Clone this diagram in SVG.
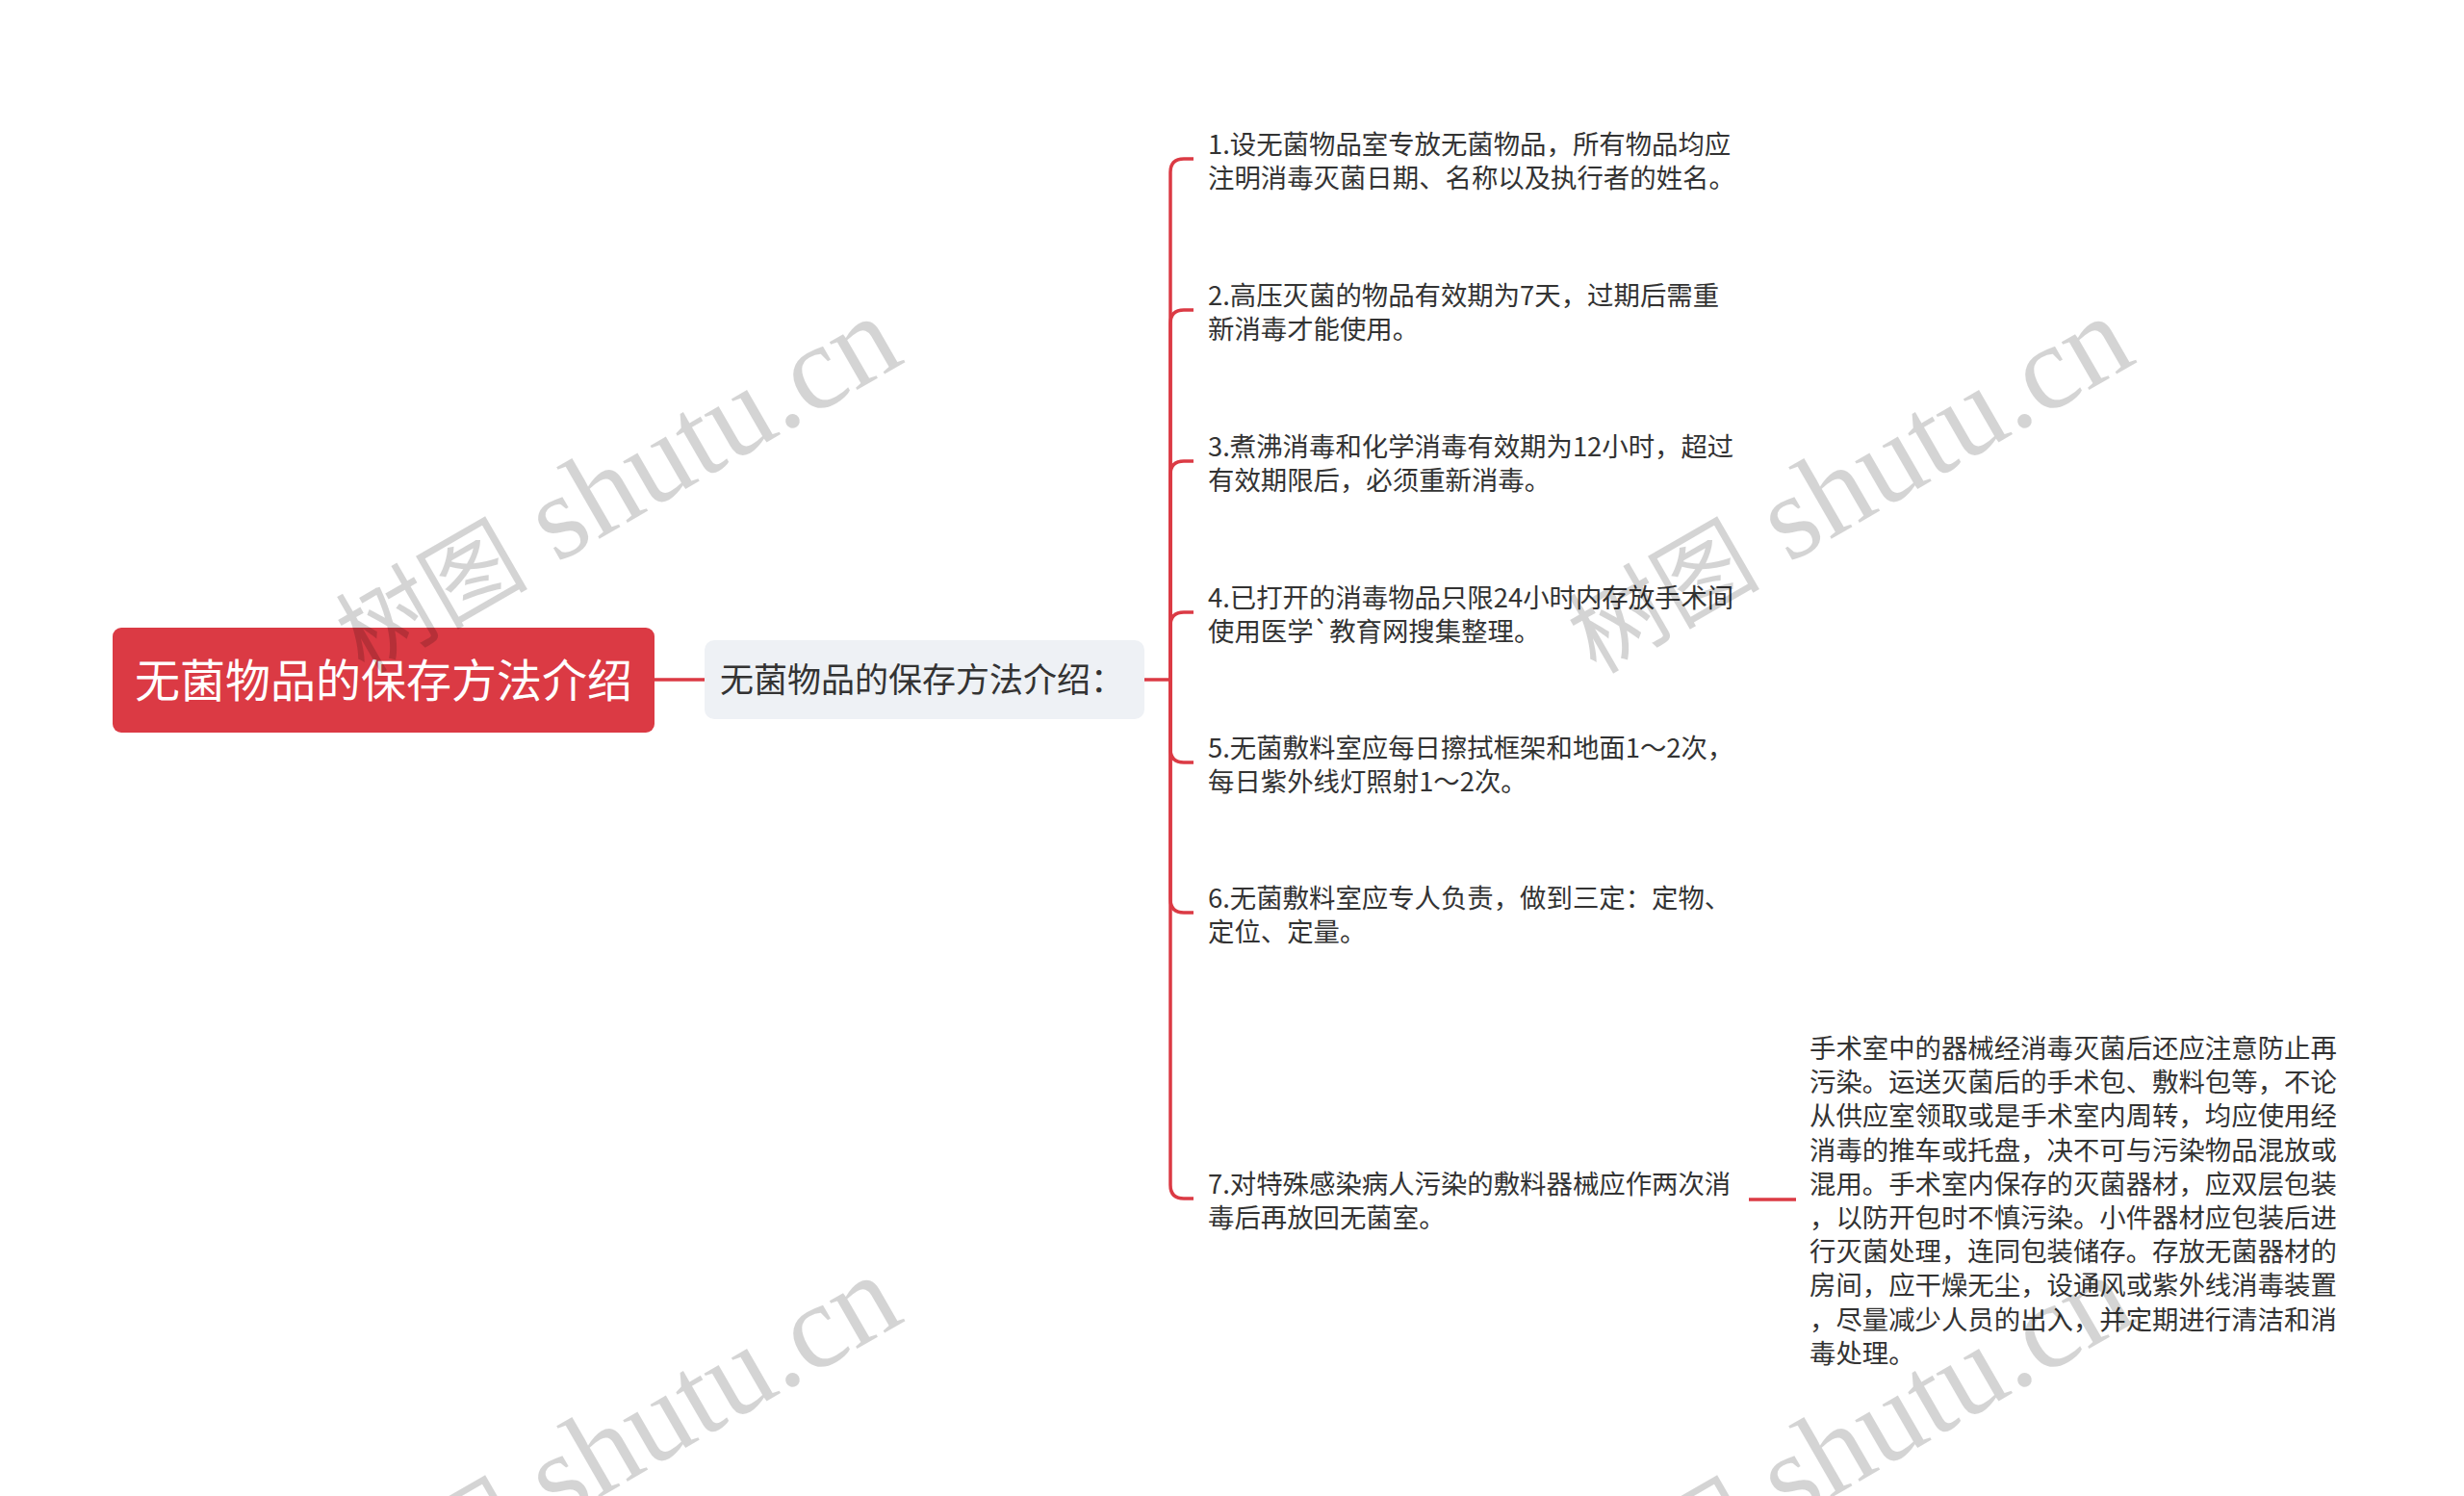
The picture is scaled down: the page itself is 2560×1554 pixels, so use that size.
<svg xmlns="http://www.w3.org/2000/svg" width="2560" height="1554" viewBox="0 0 2560 1554">
<style>
.root-box{fill:#db3a44;}
.root-text{font-family:"Noto Sans CJK SC","Noto Sans",sans-serif;font-size:47px;fill:#ffffff;}
.sub-box{fill:#eef1f5;}
.sub-text{font-family:"Noto Sans CJK SC","Noto Sans",sans-serif;font-size:35px;fill:#333333;}
.leaf{font-family:"Noto Sans CJK SC","Noto Sans",sans-serif;font-size:27.4px;fill:#333333;}
.conn{fill:none;stroke:#db3a44;stroke-width:3.5;stroke-linecap:butt;}
.wm{font-family:"Liberation Serif","Noto Sans CJK SC",serif;font-size:125px;fill:#000000;fill-opacity:0.17;}
.wm-cjk{font-size:100px;}
</style>
<rect width="2560" height="1554" fill="#ffffff"/>
<g id="connectors">
<path class="conn" d="M680,706 H732"/>
<path class="conn" d="M1189,706 H1216"/>
<path class="conn" d="M1216,706 V179 Q1216,165 1230,165 H1240"/>
<path class="conn" d="M1216,706 V336 Q1216,322 1230,322 H1240"/>
<path class="conn" d="M1216,706 V493 Q1216,479 1230,479 H1240"/>
<path class="conn" d="M1216,706 V650 Q1216,636 1230,636 H1240"/>
<path class="conn" d="M1216,706 V778 Q1216,792 1230,792 H1240"/>
<path class="conn" d="M1216,706 V934 Q1216,948 1230,948 H1240"/>
<path class="conn" d="M1216,706 V1231 Q1216,1245 1230,1245 H1240"/>
<path class="conn" d="M1817,1246 H1866"/>
</g>
<g id="root">
<rect class="root-box" x="117" y="652" width="563" height="109" rx="9"/>
<text class="root-text" x="398.5" y="724" text-anchor="middle">无菌物品的保存方法介绍</text>
</g>
<g id="sub">
<rect class="sub-box" x="732" y="665" width="457" height="82" rx="10"/>
<text class="sub-text" x="748" y="719">无菌物品的保存方法介绍：</text>
</g>
<g id="item1">
<text class="leaf" x="1255" y="160">1.设无菌物品室专放无菌物品，所有物品均应</text>
<text class="leaf" x="1255" y="195">注明消毒灭菌日期、名称以及执行者的姓名。</text>
</g>
<g id="item2">
<text class="leaf" x="1255" y="317">2.高压灭菌的物品有效期为7天，过期后需重</text>
<text class="leaf" x="1255" y="352">新消毒才能使用。</text>
</g>
<g id="item3">
<text class="leaf" x="1255" y="474">3.煮沸消毒和化学消毒有效期为12小时，超过</text>
<text class="leaf" x="1255" y="509">有效期限后，必须重新消毒。</text>
</g>
<g id="item4">
<text class="leaf" x="1255" y="631">4.已打开的消毒物品只限24小时内存放手术间</text>
<text class="leaf" x="1255" y="666">使用医学`教育网搜集整理。</text>
</g>
<g id="item5">
<text class="leaf" x="1255" y="787">5.无菌敷料室应每日擦拭框架和地面1～2次，</text>
<text class="leaf" x="1255" y="822">每日紫外线灯照射1～2次。</text>
</g>
<g id="item6">
<text class="leaf" x="1255" y="943">6.无菌敷料室应专人负责，做到三定：定物、</text>
<text class="leaf" x="1255" y="978">定位、定量。</text>
</g>
<g id="item7">
<text class="leaf" x="1255" y="1240">7.对特殊感染病人污染的敷料器械应作两次消</text>
<text class="leaf" x="1255" y="1275">毒后再放回无菌室。</text>
</g>
<g id="item7-detail">
<text class="leaf" x="1880" y="1099">手术室中的器械经消毒灭菌后还应注意防止再</text>
<text class="leaf" x="1880" y="1134.2">污染。运送灭菌后的手术包、敷料包等，不论</text>
<text class="leaf" x="1880" y="1169.4">从供应室领取或是手术室内周转，均应使用经</text>
<text class="leaf" x="1880" y="1204.6">消毒的推车或托盘，决不可与污染物品混放或</text>
<text class="leaf" x="1880" y="1239.8">混用。手术室内保存的灭菌器材，应双层包装</text>
<text class="leaf" x="1880" y="1275">，以防开包时不慎污染。小件器材应包装后进</text>
<text class="leaf" x="1880" y="1310.2">行灭菌处理，连同包装储存。存放无菌器材的</text>
<text class="leaf" x="1880" y="1345.4">房间，应干燥无尘，设通风或紫外线消毒装置</text>
<text class="leaf" x="1880" y="1380.6">，尽量减少人员的出入，并定期进行清洁和消</text>
<text class="leaf" x="1880" y="1415.8">毒处理。</text>
</g>
<g id="watermarks">
<text class="wm" transform="translate(378,701) rotate(-30)"><tspan class="wm-cjk">树图</tspan> shutu.cn</text>
<text class="wm" transform="translate(1658,701) rotate(-30)"><tspan class="wm-cjk">树图</tspan> shutu.cn</text>
<text class="wm" transform="translate(378,1697) rotate(-30)"><tspan class="wm-cjk">树图</tspan> shutu.cn</text>
<text class="wm" transform="translate(1658,1697) rotate(-30)"><tspan class="wm-cjk">树图</tspan> shutu.cn</text>
</g>
</svg>
